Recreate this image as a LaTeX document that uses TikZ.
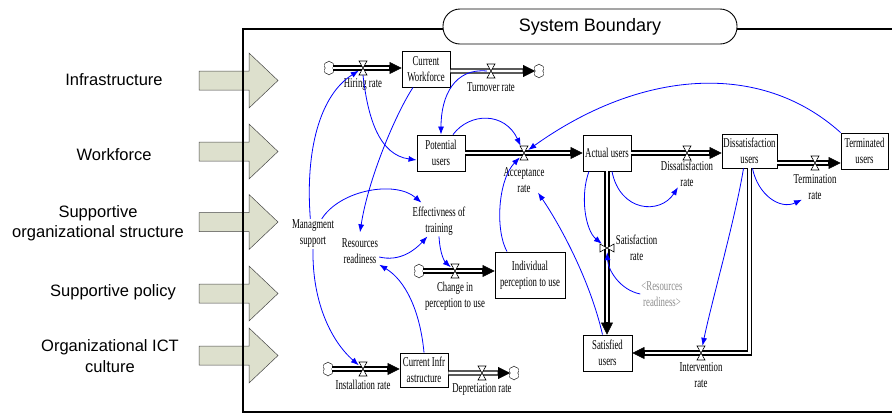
\documentclass[tikz,border=0pt]{standalone}
\usepackage{fontspec}
\setmainfont{Liberation Sans}
\newfontfamily\vensimfont[FakeStretch=0.65]{Liberation Serif}
\usepackage{xcolor}
\usepackage{tikz}
\usetikzlibrary{arrows.meta,positioning,shapes.symbols}
\definecolor{linkblue}{RGB}{0, 0, 255}
\definecolor{inputgreen}{RGB}{221, 224, 205}
\definecolor{inputedge}{RGB}{70, 70, 70}
\definecolor{shadowgray}{RGB}{140, 140, 140}
\tikzset{
  stockbox/.style={
    draw=black,
    line width=0.9pt,
    fill=white,
    align=center,
    inner sep=1pt,
    minimum width=48pt,
    minimum height=36pt,
    font=\vensimfont\fontsize{13.5}{16}\selectfont
  },
  auxtext/.style={
    align=center,
    inner sep=1pt,
    font=\vensimfont\fontsize{13.5}{16}\selectfont
  },
  ratelabel/.style={
    align=center,
    inner sep=0pt,
    font=\vensimfont\fontsize{13.5}{16}\selectfont
  },
  shadowtext/.style={
    auxtext,
    text=shadowgray
  },
  sidelabel/.style={
    align=center,
    inner sep=1pt,
    font=\fontsize{16.5}{20.5}\selectfont
  },
  boundarybox/.style={
    draw=black,
    line width=0.9pt,
    fill=white,
    rounded corners=17pt,
    minimum width=294pt,
    minimum height=35pt,
    font=\fontsize{18}{20}\selectfont
  },
  frameline/.style={
    draw=black,
    line width=1.6pt
  },
  cloudnode/.style={
    cloud,
    cloud puffs=6,
    cloud puff arc=140,
    cloud ignores aspect,
    draw=black,
    line width=0.4pt,
    fill=white,
    inner sep=0pt,
    minimum width=11pt,
    minimum height=14pt
  },
  valvebox/.style={
    inner sep=0pt,
    minimum width=8pt,
    minimum height=14pt
  },
  vvalvebox/.style={
    inner sep=0pt,
    minimum width=14pt,
    minimum height=8pt
  },
  valveline/.style={
    draw=black,
    fill=white,
    line width=0.6pt
  },
  hvalve/.pic={\filldraw[valveline] (-4,-7) -- (4,-7) -- (-4,7) -- (4,7) -- cycle;},
  vvalve/.pic={\filldraw[valveline] (-7,-4) -- (-7,4) -- (7,-4) -- (7,4) -- cycle;},
  inarrow/.pic={\filldraw[draw=inputedge, fill=inputgreen, line width=0.5pt]
    (0,-9.5) -- (50,-9.5) -- (50,-27.5) -- (79,0) -- (50,27.5) -- (50,9.5) -- (0,9.5) -- cycle;},
  pipe/.style={
    draw=black,
    line width=5.2pt,
    -{Triangle[length=12pt,width=12pt,line width=0.4pt]},
    postaction={draw=white, line width=2.6pt, -, shorten >=12.5pt}
  },
  linkarrow/.style={
    draw=linkblue,
    line width=0.8pt,
    -{Latex[length=8pt,width=6pt]}
  }
}

\begin{document}
\begin{tikzpicture}[x=1pt, y=-1pt, node distance=3pt]
  \useasboundingbox (0,0) rectangle (892,416);

  % inputs crossing the boundary
  \pic at (199,80.5) {inarrow};
  \pic at (199,151.5) {inarrow};
  \pic at (199,222) {inarrow};
  \pic at (199,293.5) {inarrow};
  \pic at (199,355.5) {inarrow};
  \node[sidelabel] (lblinfra) at (114,80) {Infrastructure};
  \node[sidelabel] (lblwork) at (114,155) {Workforce};
  \node[sidelabel] (lblstruct) at (98,223) {Supportive\\organizational structure};
  \node[sidelabel] (lblpolicy) at (113,292) {Supportive policy};
  \node[sidelabel] (lblculture) at (110,356) {Organizational ICT\\culture};

  % boundary
  \draw[frameline] (892,29) -- (243,29) -- (243,412) -- (892,412);
  \node[boundarybox] (boundary) at (590,26.5) {System Boundary};

  % clouds
  \node[cloudnode] (cloudhire) at (329,68) {};
  \node[cloudnode] (cloudturn) at (539,71) {};
  \node[cloudnode] (cloudchange) at (419,271) {};
  \node[cloudnode] (cloudinstall) at (328,369) {};
  \node[cloudnode] (clouddeprec) at (514,373) {};

  % stocks
  \node[stockbox] (workforce) at (426,69) {Current\\Workforce};
  \node[stockbox] (potential) at (441,153) {Potential\\users};
  \node[stockbox] (actual) at (607,153) {Actual users};
  \node[stockbox, minimum width=55pt, minimum height=34pt] (dissatisfied) at (749.5,151) {Dissatisfaction\\users};
  \node[stockbox, minimum width=47pt] (terminated) at (864.5,151) {Terminated\\users};
  \node[stockbox, minimum width=70pt, minimum height=46pt] (perception) at (530,275) {Individual\\perception to use};
  \node[stockbox, minimum width=49pt] (satisfied) at (607.5,353) {Satisfied\\users};
  \node[stockbox, minimum height=34pt] (infra) at (424,370) {Current Infr\\astructure};

  % valves
  \node[valvebox] (hire) at (363,68) {};
  \node[valvebox] (turn) at (491,71) {};
  \node[valvebox] (accept) at (524,153) {};
  \node[valvebox] (dissat) at (687,153) {};
  \node[valvebox] (term) at (815,163) {};
  \node[vvalvebox] (satis) at (607,248) {};
  \node[valvebox] (interv) at (701,353) {};
  \node[valvebox] (change) at (455,271) {};
  \node[valvebox] (install) at (363,369) {};
  \node[valvebox] (deprec) at (482,373) {};

  % flows
  \draw[pipe] (cloudhire.east) -- (cloudhire.east -| workforce.west);
  \draw[pipe] (workforce.east |- cloudturn) -- (cloudturn.west);
  \draw[pipe] (potential.east) -- (actual.west);
  \draw[pipe] (actual.east) -- (actual.east -| dissatisfied.west);
  \draw[pipe] (dissatisfied.east |- term) -- (term -| terminated.west);
  \draw[pipe] (actual.south) -- (actual.south |- satisfied.north);
  \draw[pipe] (dissatisfied.south) |- (satisfied.east);
  \draw[pipe] (cloudchange.east) -- (cloudchange.east -| perception.west);
  \draw[pipe] (cloudinstall.east) -- (cloudinstall.east -| infra.west);
  \draw[pipe] (infra.east |- clouddeprec) -- (clouddeprec.west);

  \pic at (hire) {hvalve};
  \pic at (turn) {hvalve};
  \pic at (accept) {hvalve};
  \pic at (dissat) {hvalve};
  \pic at (term) {hvalve};
  \pic at (satis) {vvalve};
  \pic at (interv) {hvalve};
  \pic at (change) {hvalve};
  \pic at (install) {hvalve};
  \pic at (deprec) {hvalve};

  % rate labels
  \node[ratelabel, below=3pt of hire] (hirelbl) {Hiring rate};
  \node[ratelabel, below=4pt of turn] (turnlbl) {Turnover rate};
  \node[ratelabel, below=7pt of accept] (acceptlbl) {Acceptance\\rate};
  \node[ratelabel, below=1pt of dissat] (dissatlbl) {Dissatisfaction\\rate};
  \node[ratelabel, below=4pt of term] (termlbl) {Termination\\rate};
  \node[ratelabel, right=1.5pt of satis] (satislbl) {Satisfaction\\rate};
  \node[ratelabel, below=2pt of interv] (intervlbl) {Intervention\\rate};
  \node[ratelabel, below=4pt of change] (changelbl) {Change in\\perception to use};
  \node[ratelabel, below=4pt of install] (installlbl) {Installation rate};
  \node[ratelabel, below=3pt of deprec] (depreclbl) {Depretiation rate};

  % auxiliaries
  \node[auxtext] (mgmt) at (313,234) {Managment\\support};
  \node[auxtext] (resources) at (360,251) {Resources\\readiness};
  \node[auxtext] (training) at (439,221) {Effectivness of\\training};
  \node[shadowtext] (resshadow) at (662,294) {<Resources\\readiness>};

  % causal links
  \draw[linkarrow] (mgmt.100) .. controls (305,150) and (320,95) .. (hire);
  \draw[linkarrow] (mgmt.60) .. controls (340,190) and (395,180) .. ([shift={(10pt,3pt)}]training.north west);
  \draw[linkarrow] (mgmt.south) .. controls (312,300) and (330,340) .. (install);
  \draw[linkarrow] ([xshift=-13pt]workforce.south) .. controls (395,115) and (368,180) .. ([yshift=5pt]resources.north);
  \draw[linkarrow] (hire.south) .. controls (368,120) and (380,155) .. ([yshift=-7pt]potential.west);
  \draw[linkarrow] (turn.west) .. controls (455,68) and (441,95) .. (potential.north);
  \draw[linkarrow] ([xshift=12pt]potential.north) .. controls (470,112) and (505,112) .. (accept);
  \draw[linkarrow] (terminated.north west) .. controls (760,60) and (640,70) .. (accept);
  \draw[linkarrow] ([xshift=-23pt]perception.north) .. controls (495,230) and (498,180) .. (accept);
  \draw[linkarrow] ([xshift=-5pt]satisfied.north) .. controls (590,280) and (560,225) .. ([xshift=14pt]acceptlbl.south);
  \draw[linkarrow] ([xshift=-18pt]actual.south) .. controls (580,195) and (585,230) .. (satis);
  \draw[linkarrow] ([xshift=5pt]actual.south) .. controls (620,212) and (660,215) .. ([xshift=-9pt]dissatlbl.south);
  \draw[linkarrow] (resshadow.west) .. controls (620,290) and (608,270) .. (satis);
  \draw[linkarrow] ([xshift=3pt]dissatisfied.south) .. controls (758,195) and (780,210) .. ([xshift=-13pt]termlbl.south);
  \draw[linkarrow] ([xshift=-6pt]dissatisfied.south) .. controls (735,220) and (712,300) .. (interv);
  \draw[linkarrow] (infra.north) .. controls (420,310) and (405,280) .. (resources.south east);
  \draw[linkarrow] ([yshift=-6pt]resources.east) .. controls (400,262) and (415,250) .. ([xshift=16pt]training.south west);
  \draw[linkarrow] (training.south) .. controls (440,255) and (445,262) .. (change);
\end{tikzpicture}
\end{document}
